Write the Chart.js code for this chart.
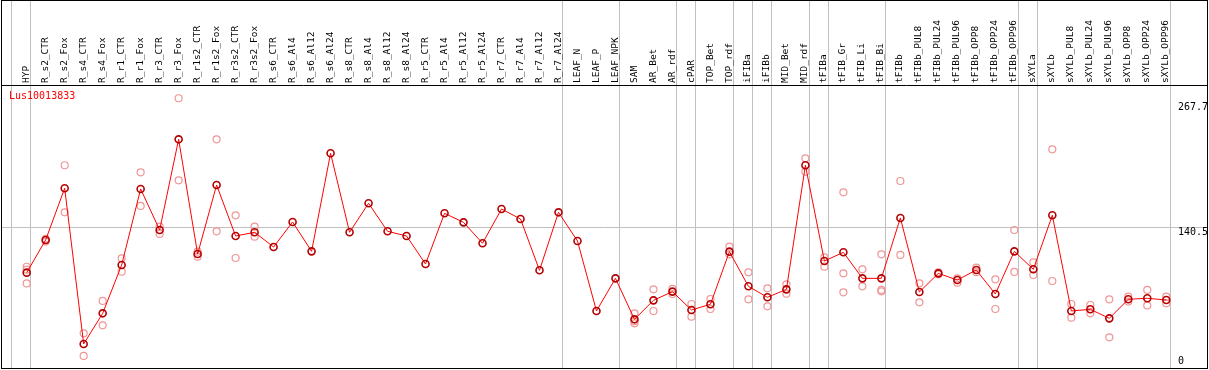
<!DOCTYPE html>
<html>
<head>
<meta charset="utf-8">
<script src="https://cdn.jsdelivr.net/npm/chart.js@4.4.1/dist/chart.umd.min.js"></script>
<style>
  html, body { margin: 0; padding: 0; background: #fff; }
  #frame { position: absolute; left: 1px; top: 0; width: 1205px; height: 367px; border: 1px solid #000; }
  #frame canvas { display: block; }
  #gene { position: absolute; left: 9px; top: 91px; font: 10px/10px "DejaVu Sans Mono", monospace; color: #f00; }
</style>
</head>
<body>
<div id="frame"><canvas id="chart" width="1205" height="367"></canvas></div>
<div id="gene">Lus10013833</div>
<script>
// sample names, left to right
const samples = [
  'HYP', 'R_s2_CTR', 'R_s2_Fox', 'R_s4_CTR', 'R_s4_Fox', 'R_r1_CTR', 'R_r1_Fox', 'R_r3_CTR', 'R_r3_Fox',
  'R_r1s2_CTR', 'R_r1s2_Fox', 'R_r3s2_CTR', 'R_r3s2_Fox', 'R_s6_CTR', 'R_s6_Al4', 'R_s6_Al12', 'R_s6_Al24',
  'R_s8_CTR', 'R_s8_Al4', 'R_s8_Al12', 'R_s8_Al24', 'R_r5_CTR', 'R_r5_Al4', 'R_r5_Al12', 'R_r5_Al24',
  'R_r7_CTR', 'R_r7_Al4', 'R_r7_Al12', 'R_r7_Al24', 'LEAF_N', 'LEAF_P', 'LEAF_NPK', 'SAM', 'AR_Bet', 'AR_rdf',
  'cPAR', 'TOP_Bet', 'TOP_rdf', 'iFIBa', 'iFIBb', 'MID_Bet', 'MID_rdf', 'tFIBa', 'tFIB_Gr', 'tFIB_Li', 'tFIB_Bi',
  'tFIBb', 'tFIBb_PUL8', 'tFIBb_PUL24', 'tFIBb_PUL96', 'tFIBb_OPP8', 'tFIBb_OPP24', 'tFIBb_OPP96',
  'sXYLa', 'sXYLb', 'sXYLb_PUL8', 'sXYLb_PUL24', 'sXYLb_PUL96', 'sXYLb_OPP8', 'sXYLb_OPP24', 'sXYLb_OPP96'
];

// mean expression per sample
const means = [
  95.0, 128.3, 180.9, 22.4, 53.6, 102.8, 180.2, 138.4, 230.7, 114.0, 184.2, 132.3, 136.1,
  121.1, 146.6, 116.7, 216.5, 136.1, 165.6, 137.1, 132.3, 103.8, 155.4, 146.2, 124.9,
  159.8, 149.6, 97.4, 156.4, 127.2, 56.0, 89.2, 47.5, 66.8, 75.7, 57.0, 62.8, 116.4,
  81.1, 69.9, 78.0, 204.3, 106.9, 115.7, 89.2, 89.2, 150.7, 75.3, 94.3, 87.5, 97.7,
  73.3, 116.7, 98.4, 153.4, 56.0, 57.7, 48.5, 67.9, 68.9, 67.2
];

// replicate values (null = no replicate shown)
const rep1 = [
  101, 126.6, 204.3, 33.3, 66.2, 109.6, 197.1, 141.8, 272.5, 116.4, 230.7, 153.4, 141.8,
  null, null, null, null, null, null, null, null, null, null, null, null,
  null, null, null, null, null, null, null, 53.6, 78.0, 78.4, 63.1, 68.2, 121.5,
  95.3, 79.1, 83.1, 211.4, 110.6, 176.8, 98.4, 113.7, 188.3, 84.1, 93.3, 89.2, 100.1,
  88.2, 138.4, 105.5, 220.5, 63.1, 62.1, 67.9, 70.6, 77.4, 70.6
];
const rep2 = [
  98, 129.5, 156.4, 10.2, 41.4, 96.0, 162.9, 134.4, 189.0, 111.3, 137.1, 109.9, 131.6,
  null, null, null, null, null, null, null, null, null, null, null, null,
  null, null, null, null, null, null, null, 43.4, 56.0, 73.3, 50.2, 58.0, 113.7,
  67.9, 60.7, 73.6, 197.8, 101.1, 94.3, 81.1, 77.4, 113.0, 64.8, 95.3, 84.8, 95.5,
  58.0, 95.7, 92.6, 86.5, 49.2, 53.6, 29.2, 65.6, 61.7, 63.8
];
const rep3 = [
  84, null, null, null, null, null, null, null, null, null, null, null, null,
  null, null, null, null, null, null, null, null, null, null, null, null,
  null, null, null, null, null, null, null, 45.5, null, null, null, null, null,
  null, null, null, null, null, 75.0, null, 76.0, null, null, null, null, null,
  null, null, null, null, null, null, null, null, null, null
];

// groups end after these sample indices (gray separators)
const groupEnds = [-1, 0, 28, 31, 34, 35, 37, 38, 39, 41, 42, 45, 52, 53, 60];
const yTicks = [0, 140.5, 267.7];

const mono = '"DejaVu Sans Mono", monospace';
const xMin = -1.3;

const repPoints = [];
[rep1, rep2, rep3].forEach(arr => {
  arr.forEach((v, i) => { if (v !== null) repPoints.push({ x: i, y: v }); });
});

// separator ticks sit just right of the last sample of a group
const isSeparator = v => !Number.isInteger(v);

new Chart(document.getElementById('chart'), {
  type: 'line',
  data: {
    datasets: [{
      label: 'mean',
      data: means.map((v, i) => ({ x: i, y: v })),
      borderColor: '#ff0000',
      borderWidth: 1,
      pointRadius: 3.5,
      pointBorderWidth: 1.6,
      pointBorderColor: '#b40000',
      pointBackgroundColor: 'rgba(0,0,0,0)'
    }, {
      label: 'replicates',
      data: repPoints,
      showLine: false,
      pointRadius: 3.5,
      pointBorderWidth: 1.2,
      pointBorderColor: '#f09696',
      pointBackgroundColor: 'rgba(0,0,0,0)'
    }]
  },
  options: {
    responsive: false,
    animation: false,
    layout: { padding: 0, autoPadding: false },
    plugins: { legend: { display: false }, tooltip: { enabled: false } },
    scales: {
      x: {
        type: 'linear',
        position: 'top',
        min: xMin,
        max: 62.144,
        bounds: 'data',
        afterBuildTicks: s => {
          s.ticks = samples.map((_, i) => ({ value: i }))
            .concat(groupEnds.map(g => ({ value: g + 0.2 })))
            .sort((a, b) => a.value - b.value);
        },
        afterFit: s => { s.height = 84; s.paddingLeft = 0; s.paddingRight = 0; },
        grid: {
          color: c => (c.tick && isSeparator(c.tick.value)) ? '#c0c0c0' : 'rgba(0,0,0,0)',
          tickLength: 84,
          lineWidth: 1
        },
        border: { color: '#000', width: 1 },
        ticks: {
          autoSkip: false,
          minRotation: 90,
          maxRotation: 90,
          padding: -82,
          labelOffset: 11,
          color: '#000',
          font: { family: mono, size: 9.5 },
          callback: v => Number.isInteger(v) && samples[v] ? samples[v] : ''
        }
      },
      y: {
        type: 'linear',
        position: 'right',
        min: -2.04,
        max: 286.0,
        afterBuildTicks: s => { s.ticks = yTicks.map(v => ({ value: v })); },
        afterFit: s => { s.width = 0; s.paddingTop = 0; s.paddingBottom = 0; },
        grid: {
          color: c => (c.tick && c.tick.value === 140.5) ? '#c0c0c0' : 'rgba(0,0,0,0)',
          drawTicks: false
        },
        border: { display: false },
        ticks: {
          mirror: true,
          crossAlign: 'far',
          padding: 1,
          color: '#000',
          font: { family: mono, size: 10, lineHeight: 0.9 },
          callback: v => v === 0 ? ['0', ''] : ['', String(v)]
        }
      }
    }
  }
});
</script>
</body>
</html>
